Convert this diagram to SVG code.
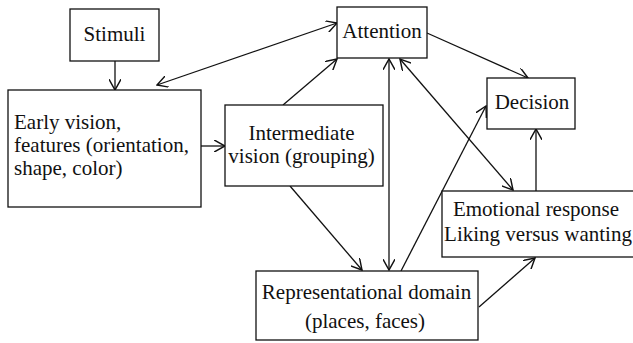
<svg xmlns="http://www.w3.org/2000/svg" width="633" height="343" viewBox="0 0 633 343">
<style>
.box{fill:#fff;stroke:#111;stroke-width:1.3}
.t{font-family:'Liberation Serif','DejaVu Serif',serif;font-size:21px;fill:#111}
.c{text-anchor:middle}
.ln{stroke:#111;stroke-width:1.3;fill:none;marker-end:url(#ah)}
.bi{marker-start:url(#ah)}
</style>
<defs>
<marker id="ah" markerUnits="userSpaceOnUse" markerWidth="12" markerHeight="12" refX="9" refY="5" orient="auto-start-reverse" viewBox="0 0 10 10">
<path d="M0,0 L9,5 L0,10" fill="none" stroke="#111" stroke-width="1.2"/>
</marker>
</defs>
<rect width="633" height="343" fill="#fff"/>
<g id="connectors">
<line class="ln" x1="115" y1="61" x2="115" y2="90"/>
<line class="ln" x1="201" y1="146" x2="225" y2="146"/>
<line class="ln bi" x1="157" y1="85" x2="337" y2="23"/>
<line class="ln" x1="283" y1="105" x2="337" y2="59"/>
<line class="ln bi" x1="389" y1="59" x2="389" y2="270"/>
<line class="ln bi" x1="400" y1="59" x2="513" y2="190"/>
<line class="ln" x1="427" y1="33" x2="528" y2="78"/>
<line class="ln" x1="536" y1="191" x2="536" y2="129"/>
<line class="ln" x1="401" y1="271" x2="486" y2="106"/>
<line class="ln" x1="290" y1="186" x2="362" y2="270"/>
<line class="ln" x1="479" y1="307" x2="535" y2="258"/>
</g>
<g id="stimuli">
<rect class="box" x="70" y="9" width="89" height="52"/>
<text class="t c" x="114.5" y="41" font-family="Liberation Serif, serif">Stimuli</text>
</g>
<g id="early-vision">
<rect class="box" x="8" y="90" width="193" height="117"/>
<text class="t" x="14" y="129">Early vision,</text>
<text class="t" x="14" y="152">features (orientation,</text>
<text class="t" x="14" y="175">shape, color)</text>
</g>
<g id="intermediate">
<rect class="box" x="225" y="105" width="158" height="81"/>
<text class="t c" x="301.5" y="140">Intermediate</text>
<text class="t c" x="301.5" y="163">vision (grouping)</text>
</g>
<g id="attention">
<rect class="box" x="337" y="7" width="90" height="51"/>
<text class="t c" x="382" y="38">Attention</text>
</g>
<g id="decision">
<rect class="box" x="487" y="78" width="88" height="51"/>
<text class="t c" x="532" y="109">Decision</text>
</g>
<g id="emotional">
<rect class="box" x="442" y="191" width="200" height="66"/>
<text class="t c" x="536" y="216">Emotional response</text>
<text class="t c" x="538" y="241">Liking versus wanting</text>
</g>
<g id="representational">
<rect class="box" x="256" y="271" width="222" height="69"/>
<text class="t c" x="366.5" y="299">Representational domain</text>
<text class="t c" x="365" y="328">(places, faces)</text>
</g>
</svg>
